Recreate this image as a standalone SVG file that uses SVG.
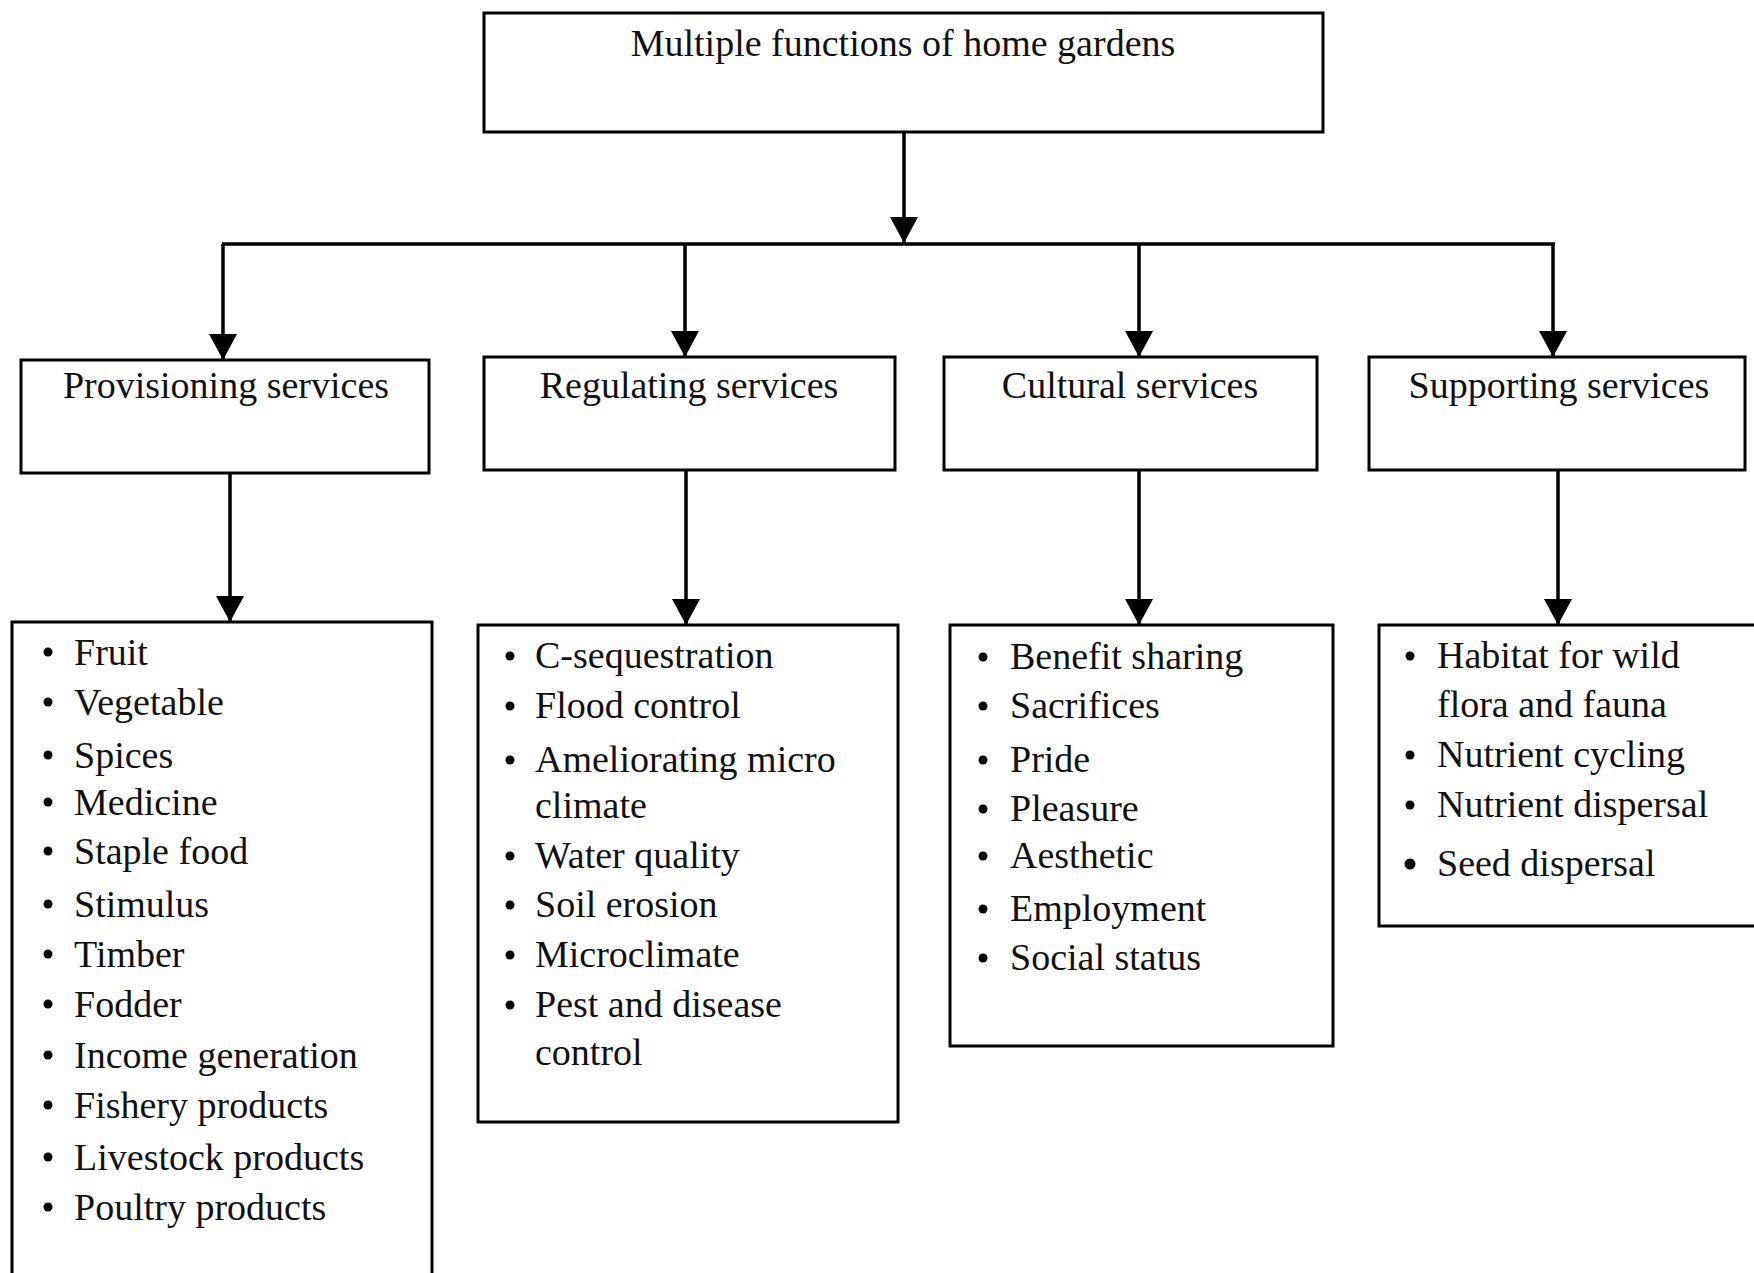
<svg xmlns="http://www.w3.org/2000/svg" width="1754" height="1273" viewBox="0 0 1754 1273">
<style>
.box{fill:#fff;stroke:#000;stroke-width:3}
.t{font-family:"Liberation Serif","Times New Roman",serif;font-size:38px;fill:#111}
.c{text-anchor:middle}
.ln{stroke:#000;stroke-width:3.5;fill:none}
.b{fill:#000}
</style>
<defs>
<marker id="ah" viewBox="0 0 26 28" refX="26" refY="14" markerWidth="26" markerHeight="28" markerUnits="userSpaceOnUse" orient="auto">
<path d="M0,0 L26,14 L0,28 Z" fill="#000"/>
</marker>
</defs>
<rect width="1754" height="1273" fill="#fff"/>

<g id="connectors">
<line class="ln" x1="904" y1="132" x2="904" y2="243" marker-end="url(#ah)"/>
<line class="ln" x1="222" y1="244" x2="1555" y2="244"/>
<line class="ln" x1="223" y1="244" x2="223" y2="360" marker-end="url(#ah)"/>
<line class="ln" x1="685" y1="244" x2="685" y2="357" marker-end="url(#ah)"/>
<line class="ln" x1="1139" y1="244" x2="1139" y2="357" marker-end="url(#ah)"/>
<line class="ln" x1="1553" y1="244" x2="1553" y2="357" marker-end="url(#ah)"/>
<line class="ln" x1="230" y1="473" x2="230" y2="622" marker-end="url(#ah)"/>
<line class="ln" x1="686" y1="470" x2="686" y2="625" marker-end="url(#ah)"/>
<line class="ln" x1="1139" y1="470" x2="1139" y2="625" marker-end="url(#ah)"/>
<line class="ln" x1="1558" y1="470" x2="1558" y2="625" marker-end="url(#ah)"/>
</g>

<g id="root">
<rect class="box" x="484" y="13" width="839" height="119"/>
<text class="t c" x="903" y="56">Multiple functions of home gardens</text>
</g>

<g id="provisioning">
<rect class="box" x="21" y="360" width="408" height="113"/>
<text class="t c" x="226" y="398">Provisioning services</text>
</g>
<g id="regulating">
<rect class="box" x="484" y="357" width="411" height="113"/>
<text class="t c" x="689" y="398">Regulating services</text>
</g>
<g id="cultural">
<rect class="box" x="944" y="357" width="373" height="113"/>
<text class="t c" x="1130" y="398">Cultural services</text>
</g>
<g id="supporting">
<rect class="box" x="1369" y="357" width="376" height="113"/>
<text class="t c" x="1559" y="398">Supporting services</text>
</g>

<g id="provisioning-list">
<rect class="box" x="12" y="622" width="420" height="700"/>
<circle class="b" cx="48" cy="652" r="4.5"/><text class="t" x="74" y="665">Fruit</text>
<circle class="b" cx="48" cy="702" r="4.5"/><text class="t" x="74" y="715">Vegetable</text>
<circle class="b" cx="48" cy="755" r="4.5"/><text class="t" x="74" y="768">Spices</text>
<circle class="b" cx="48" cy="802" r="4.5"/><text class="t" x="74" y="815">Medicine</text>
<circle class="b" cx="48" cy="851" r="4.5"/><text class="t" x="74" y="864">Staple food</text>
<circle class="b" cx="48" cy="904" r="4.5"/><text class="t" x="74" y="917">Stimulus</text>
<circle class="b" cx="48" cy="954" r="4.5"/><text class="t" x="74" y="967">Timber</text>
<circle class="b" cx="48" cy="1004" r="4.5"/><text class="t" x="74" y="1017">Fodder</text>
<circle class="b" cx="48" cy="1055" r="4.5"/><text class="t" x="74" y="1068">Income generation</text>
<circle class="b" cx="48" cy="1105" r="4.5"/><text class="t" x="74" y="1118">Fishery products</text>
<circle class="b" cx="48" cy="1157" r="4.5"/><text class="t" x="74" y="1170">Livestock products</text>
<circle class="b" cx="48" cy="1207" r="4.5"/><text class="t" x="74" y="1220">Poultry products</text>
</g>

<g id="regulating-list">
<rect class="box" x="478" y="625" width="420" height="497"/>
<circle class="b" cx="510" cy="656" r="4.5"/><text class="t" x="535" y="668">C-sequestration</text>
<circle class="b" cx="510" cy="706" r="4.5"/><text class="t" x="535" y="718">Flood control</text>
<circle class="b" cx="510" cy="760" r="4.5"/><text class="t" x="535" y="772">Ameliorating micro</text>
<text class="t" x="535" y="818">climate</text>
<circle class="b" cx="510" cy="856" r="4.5"/><text class="t" x="535" y="868">Water quality</text>
<circle class="b" cx="510" cy="905" r="4.5"/><text class="t" x="535" y="917">Soil erosion</text>
<circle class="b" cx="510" cy="955" r="4.5"/><text class="t" x="535" y="967">Microclimate</text>
<circle class="b" cx="510" cy="1005" r="4.5"/><text class="t" x="535" y="1017">Pest and disease</text>
<text class="t" x="535" y="1065">control</text>
</g>

<g id="cultural-list">
<rect class="box" x="950" y="625" width="383" height="421"/>
<circle class="b" cx="983" cy="657" r="4.5"/><text class="t" x="1010" y="669">Benefit sharing</text>
<circle class="b" cx="983" cy="706" r="4.5"/><text class="t" x="1010" y="718">Sacrifices</text>
<circle class="b" cx="983" cy="760" r="4.5"/><text class="t" x="1010" y="772">Pride</text>
<circle class="b" cx="983" cy="809" r="4.5"/><text class="t" x="1010" y="821">Pleasure</text>
<circle class="b" cx="983" cy="856" r="4.5"/><text class="t" x="1010" y="868">Aesthetic</text>
<circle class="b" cx="983" cy="909" r="4.5"/><text class="t" x="1010" y="921">Employment</text>
<circle class="b" cx="983" cy="958" r="4.5"/><text class="t" x="1010" y="970">Social status</text>
</g>

<g id="supporting-list">
<rect class="box" x="1379" y="625" width="400" height="301"/>
<circle class="b" cx="1410" cy="656" r="4.5"/><text class="t" x="1437" y="668">Habitat for wild</text>
<text class="t" x="1437" y="717">flora and fauna</text>
<circle class="b" cx="1410" cy="755" r="4.5"/><text class="t" x="1437" y="767">Nutrient cycling</text>
<circle class="b" cx="1410" cy="805" r="4.5"/><text class="t" x="1437" y="817">Nutrient dispersal</text>
<circle class="b" cx="1410" cy="864" r="5.5"/><text class="t" x="1437" y="876">Seed dispersal</text>
</g>
</svg>
